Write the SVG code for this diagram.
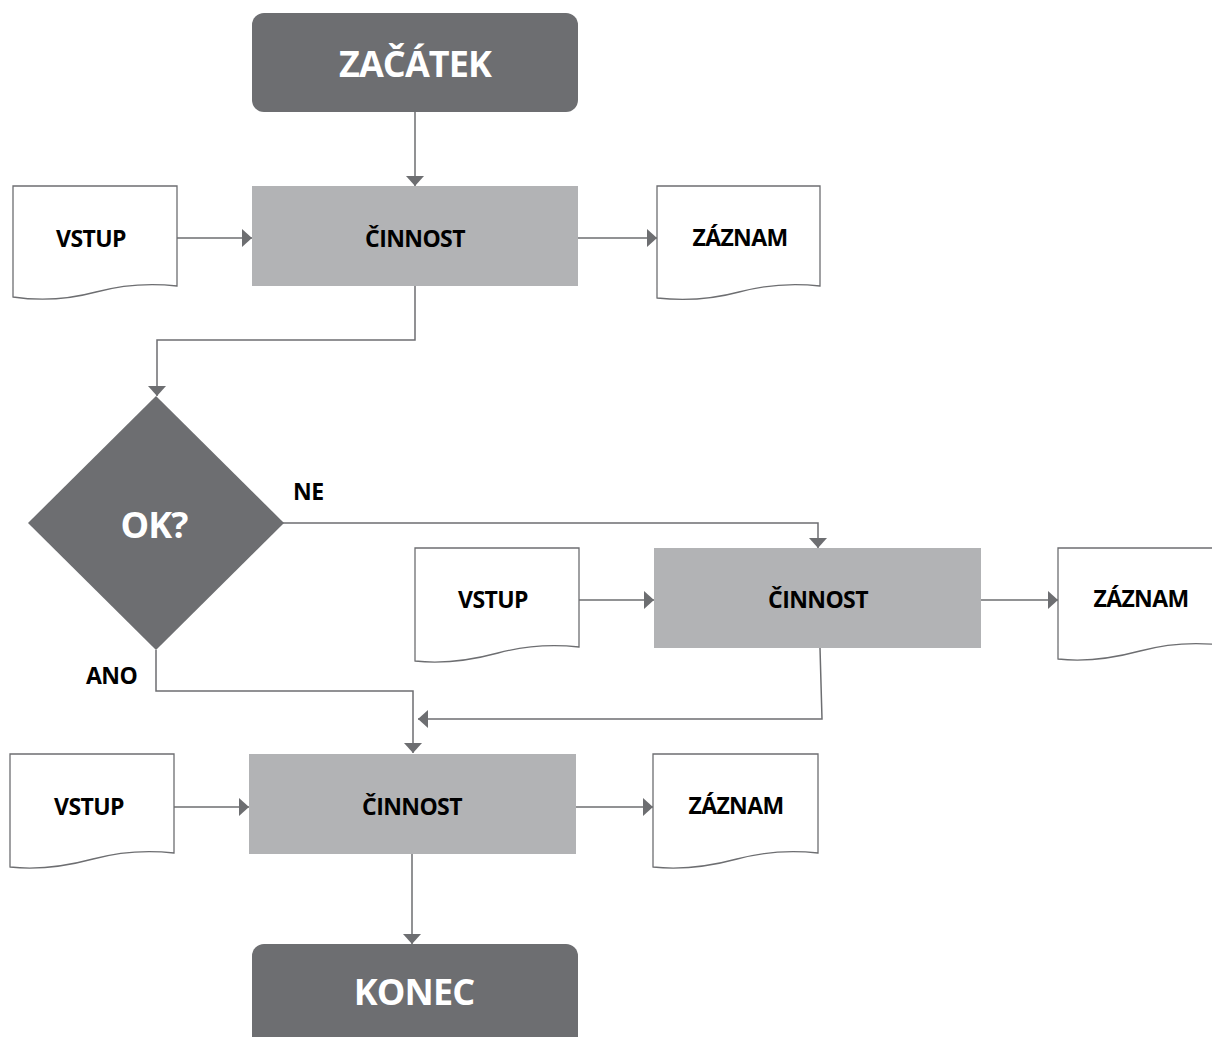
<svg xmlns="http://www.w3.org/2000/svg" width="1212" height="1037" viewBox="0 0 1212 1037">
  <style>
    .term { fill: #6d6e71; }
    .act { fill: #b2b3b5; }
    .doc { fill: #ffffff; stroke: #6d6e71; stroke-width: 1.3; }
    .dec { fill: #6d6e71; }
    .wt { font-family: "Open Sans", "Liberation Sans", sans-serif; font-weight: 700; fill: #ffffff; text-anchor: middle; font-size: 36px; letter-spacing: -0.9px; }
    .bt { font-family: "Open Sans", "Liberation Sans", sans-serif; font-weight: 700; fill: #000000; text-anchor: middle; font-size: 23px; letter-spacing: -0.6px; }
    .lbl { font-family: "Open Sans", "Liberation Sans", sans-serif; font-weight: 700; fill: #000000; font-size: 23px; letter-spacing: -0.5px; }
    .conn { fill: none; stroke: #6d6e71; stroke-width: 1.5; }
  </style>
  <defs>
    <marker id="arrow" viewBox="0 0 10 18" refX="10" refY="9" markerWidth="10" markerHeight="18" markerUnits="userSpaceOnUse" orient="auto">
      <path d="M0,0 L10,9 L0,18 Z" fill="#6d6e71"/>
    </marker>
  </defs>

  <!-- connectors -->
  <g id="connectors">
    <path class="conn" d="M415,112 V186" marker-end="url(#arrow)"/>
    <path class="conn" d="M177,238 H252" marker-end="url(#arrow)"/>
    <path class="conn" d="M578,238 H657" marker-end="url(#arrow)"/>
    <path class="conn" d="M415,286 V340 H157 V396" marker-end="url(#arrow)"/>
    <path class="conn" d="M283,523 H818 V548" marker-end="url(#arrow)"/>
    <path class="conn" d="M579,600 H654" marker-end="url(#arrow)"/>
    <path class="conn" d="M981,600 H1058" marker-end="url(#arrow)"/>
    <path class="conn" d="M820,648 L822,719 H418" marker-end="url(#arrow)"/>
    <path class="conn" d="M156,650 V691 H413 V753" marker-end="url(#arrow)"/>
    <path class="conn" d="M174,807 H249" marker-end="url(#arrow)"/>
    <path class="conn" d="M576,807 H653" marker-end="url(#arrow)"/>
    <path class="conn" d="M412,854 V944" marker-end="url(#arrow)"/>
  </g>

  <!-- start -->
  <g id="start">
    <rect class="term" x="252" y="13" width="326" height="99" rx="12"/>
    <text class="wt" x="415" y="77">ZAČÁTEK</text>
  </g>

  <!-- row 1 -->
  <g id="input1">
    <path class="doc" d="M13,186 H177 V286 C150,283 122,285 96,292 C70,299 40,301 13,297 Z"/>
    <text class="bt" x="91" y="247">VSTUP</text>
  </g>
  <g id="activity1">
    <rect class="act" x="252" y="186" width="326" height="100"/>
    <text class="bt" x="415" y="247">ČINNOST</text>
  </g>
  <g id="record1">
    <path class="doc" d="M657,186 H820 V286 C793,283 765,285 739,292 C713,299 684,301 657,298 Z"/>
    <text class="bt" x="740" y="246">ZÁZNAM</text>
  </g>

  <!-- decision -->
  <g id="decision">
    <path class="dec" d="M156,396 L284,523 L156,650 L28,523 Z"/>
    <text class="wt" x="154" y="538">OK?</text>
  </g>
  <g id="label-ne">
    <text class="lbl" x="293" y="500">NE</text>
  </g>
  <g id="label-ano">
    <text class="lbl" x="86" y="684">ANO</text>
  </g>

  <!-- row 2 -->
  <g id="input2">
    <path class="doc" d="M415,548 H579 V647 C552,644 524,646 498,653 C472,660 442,664 415,661 Z"/>
    <text class="bt" x="493" y="608">VSTUP</text>
  </g>
  <g id="activity2">
    <rect class="act" x="654" y="548" width="327" height="100"/>
    <text class="bt" x="818" y="608">ČINNOST</text>
  </g>
  <g id="record2">
    <path class="doc" d="M1058,548 H1221 V645 C1194,642 1166,644 1140,651 C1114,658 1085,662 1058,659 Z"/>
    <text class="bt" x="1141" y="607">ZÁZNAM</text>
  </g>

  <!-- row 3 -->
  <g id="input3">
    <path class="doc" d="M10,754 H174 V853 C147,850 119,852 93,859 C67,866 37,870 10,867 Z"/>
    <text class="bt" x="89" y="815">VSTUP</text>
  </g>
  <g id="activity3">
    <rect class="act" x="249" y="754" width="327" height="100"/>
    <text class="bt" x="412" y="815">ČINNOST</text>
  </g>
  <g id="record3">
    <path class="doc" d="M653,754 H818 V853 C791,850 763,852 737,859 C711,866 681,870 653,867 Z"/>
    <text class="bt" x="736" y="814">ZÁZNAM</text>
  </g>

  <!-- end -->
  <g id="end">
    <rect class="term" x="252" y="944" width="326" height="110" rx="12"/>
    <text class="wt" x="414" y="1005">KONEC</text>
  </g>
</svg>
